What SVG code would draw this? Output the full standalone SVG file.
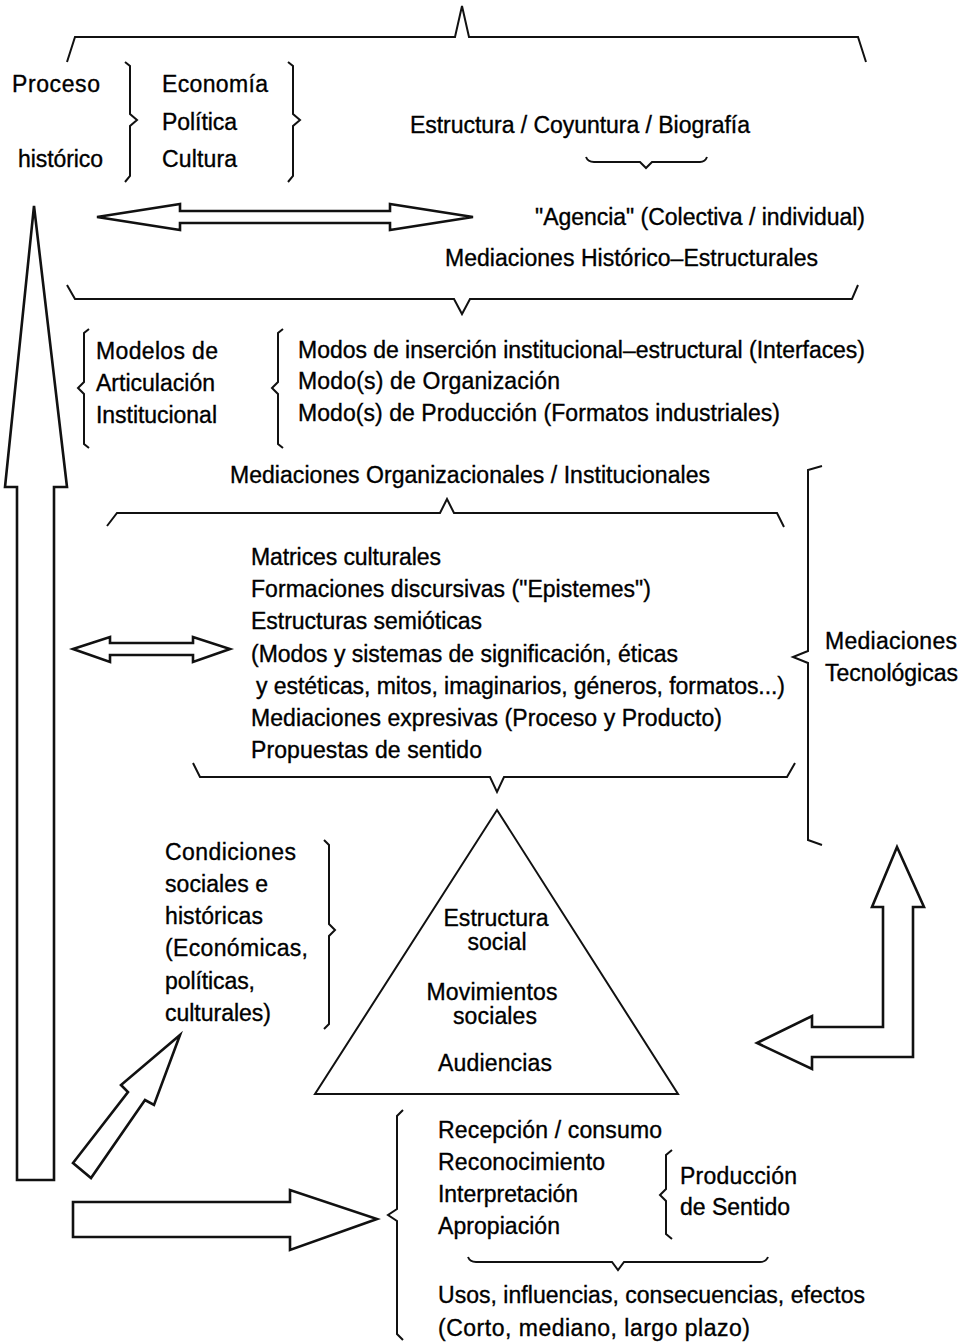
<svg xmlns="http://www.w3.org/2000/svg" width="972" height="1342" viewBox="0 0 972 1342">
<style>
text{font-family:"Liberation Sans",Arial,sans-serif;font-size:23px;fill:#000;stroke:#000;stroke-width:0.35;}
.br{fill:none;stroke:#111;stroke-width:2;stroke-linejoin:miter;}
.ar{fill:#fff;stroke:#111;stroke-width:2.6;stroke-linejoin:miter;}
</style>
<rect width="972" height="1342" fill="#fff"/>
<g id="connectors">
<path class="ar" d="M34,206 L67,487 L54,487 L54,1180 L17,1180 L17,487 L5,487 Z"/>
<path class="ar" d="M97,217 L180,204 L180,211 L390,211 L390,204 L473,217 L390,230 L390,223 L180,223 L180,230 Z"/>
<path class="ar" d="M73,649 L110,637 L110,643 L193,643 L193,637 L230,649 L193,662 L193,655 L110,655 L110,662 Z"/>
<path class="ar" d="M180,1035 L154,1105 L145,1100 L91,1178 L73,1163 L128,1092 L121,1085 Z"/>
<path class="ar" d="M73,1202 L290,1202 L290,1190 L377,1219 L290,1250 L290,1237 L73,1237 Z"/>
<path class="ar" d="M897,847 L924,907 L913,907 L913,1057 L812,1057 L812,1069 L757,1043 L812,1016 L812,1027 L883,1027 L883,907 L872,907 Z"/>
</g>
<g id="braces">
<path class="br" d="M67,62 L75,37 L455,37 L462,6 L469,37 L858,37 L866,62"/>
<path class="br" d="M125,62 L130,66 L130,114 L137,120 L130,126 L130,176 L125,182"/>
<path class="br" d="M288,62 L293,66 L293,114 L300,120 L293,126 L293,176 L288,182"/>
<path class="br" d="M586,157 Q588,162 594,162 L640,162 L646,168 L652,162 L700,162 Q705,162 707,157"/>
<path class="br" d="M67,285 L75,299 L454,299 L462,314 L470,299 L852,299 L858,285"/>
<path class="br" d="M89,329 L84,333 L84,382 L78,388 L84,394 L84,444 L89,448"/>
<path class="br" d="M283,329 L278,333 L278,382 L272,388 L278,394 L278,444 L283,448"/>
<path class="br" d="M107,526 L117,513 L440,513 L447,499 L454,513 L777,513 L784,527"/>
<path class="br" d="M193,763 L200,777 L490,777 L497,792 L504,777 L787,777 L795,763"/>
<path class="br" d="M822,466 L808,470 L808,651 L793,657 L808,663 L808,840 L822,845"/>
<path class="br" d="M324,840 L329,845 L329,924 L335,930 L329,936 L329,1024 L324,1029"/>
<path class="br" d="M403,1110 L397,1116 L397,1209 L388,1215 L397,1221 L397,1334 L403,1340"/>
<path class="br" d="M672,1150 L666,1155 L666,1189 L660,1195 L666,1201 L666,1234 L672,1239"/>
<path class="br" d="M468,1257 Q470,1262 476,1262 L612,1262 L618,1270 L624,1262 L760,1262 Q766,1262 768,1257"/>
</g>
<g id="node-proceso">
<text x="12" y="92" textLength="88">Proceso</text>
<text x="18" y="167" textLength="85">histórico</text>
</g>
<g id="node-economia">
<text x="162" y="92" textLength="106">Economía</text>
<text x="162" y="130" textLength="75">Política</text>
<text x="162" y="167" textLength="75">Cultura</text>
</g>
<g id="node-estructura-coyuntura">
<text x="410" y="133" textLength="340">Estructura / Coyuntura / Biografía</text>
</g>
<g id="node-agencia">
<text x="535" y="225" textLength="330">"Agencia" (Colectiva / individual)</text>
<text x="445" y="266" textLength="373">Mediaciones Histórico–Estructurales</text>
</g>
<g id="node-modelos">
<text x="96" y="359" textLength="122">Modelos de</text>
<text x="96" y="391" textLength="119">Articulación</text>
<text x="96" y="423" textLength="121">Institucional</text>
</g>
<g id="node-modos">
<text x="298" y="358" textLength="567">Modos de inserción institucional–estructural (Interfaces)</text>
<text x="298" y="389" textLength="262">Modo(s) de Organización</text>
<text x="298" y="421" textLength="482">Modo(s) de Producción (Formatos industriales)</text>
</g>
<g id="node-med-org">
<text x="230" y="483" textLength="480">Mediaciones Organizacionales / Institucionales</text>
</g>
<g id="node-matrices">
<text x="251" y="565" textLength="190">Matrices culturales</text>
<text x="251" y="597" textLength="400">Formaciones discursivas ("Epistemes")</text>
<text x="251" y="629" textLength="231">Estructuras semióticas</text>
<text x="251" y="662" textLength="427">(Modos y sistemas de significación, éticas</text>
<text x="256" y="694" textLength="529">y estéticas, mitos, imaginarios, géneros, formatos...)</text>
<text x="251" y="726" textLength="471">Mediaciones expresivas (Proceso y Producto)</text>
<text x="251" y="758" textLength="231">Propuestas de sentido</text>
</g>
<g id="node-med-tec">
<text x="825" y="649" textLength="132">Mediaciones</text>
<text x="825" y="681" textLength="133">Tecnológicas</text>
</g>
<g id="node-condiciones">
<text x="165" y="860" textLength="131">Condiciones</text>
<text x="165" y="892" textLength="103">sociales e</text>
<text x="165" y="924" textLength="98">históricas</text>
<text x="165" y="956" textLength="143">(Económicas,</text>
<text x="165" y="989" textLength="90">políticas,</text>
<text x="165" y="1021" textLength="106">culturales)</text>
</g>
<g id="node-triangulo">
<path fill="#fff" stroke="#111" stroke-width="2" d="M497,810 L678,1094 L315,1094 Z"/>
<text x="496" y="926" text-anchor="middle" textLength="105">Estructura</text>
<text x="497" y="950" text-anchor="middle" textLength="59">social</text>
<text x="492" y="1000" text-anchor="middle" textLength="131">Movimientos</text>
<text x="495" y="1024" text-anchor="middle" textLength="84">sociales</text>
<text x="495" y="1071" text-anchor="middle" textLength="114">Audiencias</text>
</g>
<g id="node-recepcion">
<text x="438" y="1138" textLength="224">Recepción / consumo</text>
<text x="438" y="1170" textLength="167">Reconocimiento</text>
<text x="438" y="1202" textLength="140">Interpretación</text>
<text x="438" y="1234" textLength="122">Apropiación</text>
</g>
<g id="node-produccion">
<text x="680" y="1184" textLength="117">Producción</text>
<text x="680" y="1215" textLength="110">de Sentido</text>
</g>
<g id="node-usos">
<text x="438" y="1303" textLength="427">Usos, influencias, consecuencias, efectos</text>
<text x="438" y="1336" textLength="312">(Corto, mediano, largo plazo)</text>
</g>
</svg>
